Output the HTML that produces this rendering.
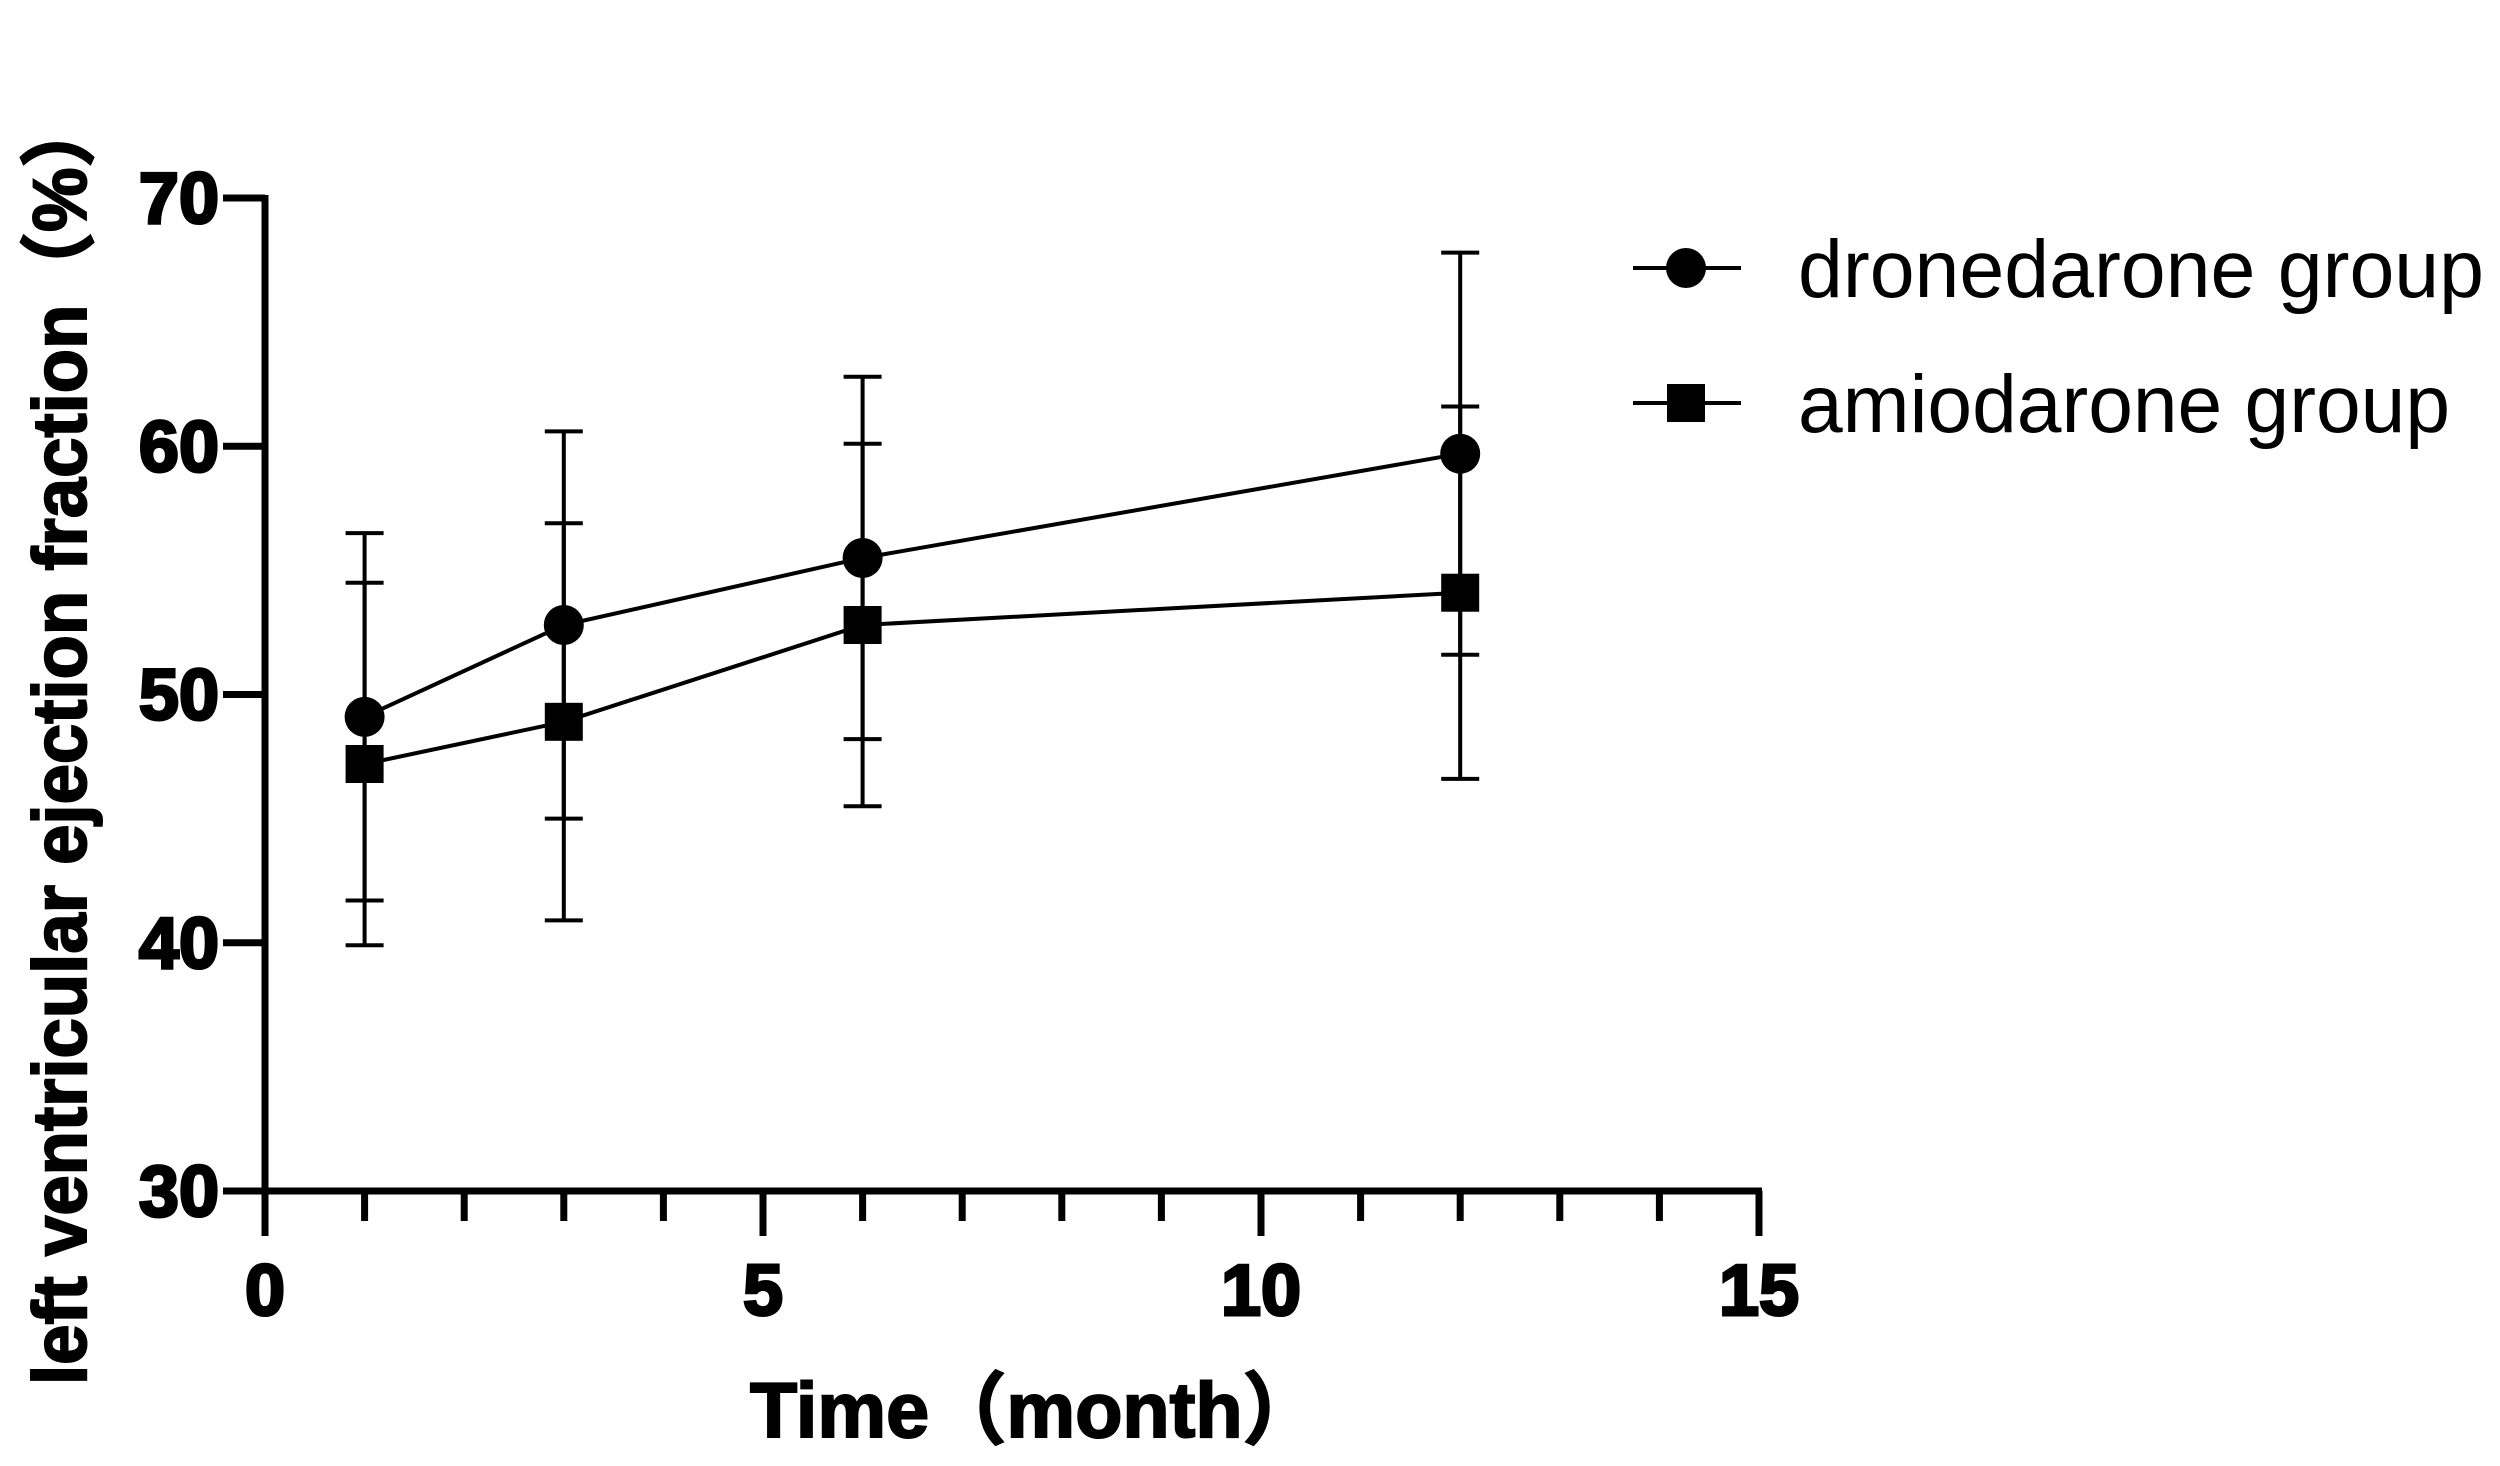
<!DOCTYPE html>
<html><head><meta charset="utf-8"><style>html,body{margin:0;padding:0;background:#fff}svg{display:block}</style></head>
<body>
<svg id="chart" width="2500" height="1466" viewBox="0 0 2500 1466" xmlns="http://www.w3.org/2000/svg" font-family="Liberation Sans, Arial, sans-serif">
<g id="axes"></g>
<g id="series"></g>
<text x="1035" y="1437" font-size="78" font-weight="bold" stroke="#000" stroke-width="2" text-anchor="middle" textLength="570" lengthAdjust="spacingAndGlyphs" font-family="Liberation Sans, Noto Sans CJK SC, sans-serif">Time（month）</text>
<text transform="translate(86,740) rotate(-90)" font-size="76" font-weight="bold" stroke="#000" stroke-width="2" text-anchor="middle" textLength="1290" lengthAdjust="spacingAndGlyphs" font-family="Liberation Sans, Noto Sans CJK SC, sans-serif">left ventricular ejection fraction（%）</text>
<g id="legend"></g>
</svg>
<script>
const months = [1, 3, 6, 12];
const droneMean = [49.1, 52.8, 55.5, 59.7];
const droneSD = [7.4, 7.8, 7.3, 8.1];
const amioMean = [47.2, 48.9, 52.8, 54.1];
const amioSD = [7.3, 8.0, 7.3, 7.5];
const yTicks = [30, 40, 50, 60, 70];
const xTicks = [0, 5, 10, 15];
const seriesNames = ["dronedarone group", "amiodarone group"];

const NS = "http://www.w3.org/2000/svg";
const X0 = 265, X1 = 1759, Y30 = 1191, Y70 = 198;
const sx = v => X0 + (v - 0) / 15 * (X1 - X0);
const sy = v => Y30 - (v - 30) / 40 * (Y30 - Y70);
function mk(tag, attrs, parent) {
  const e = document.createElementNS(NS, tag);
  for (const k in attrs) e.setAttribute(k, attrs[k]);
  parent.appendChild(e);
  return e;
}
const axes = document.getElementById('axes');
let a = mk('line', {x1: X0, y1: Y70 - 3, x2: X0, y2: Y30 + 3, stroke: '#000', 'stroke-width': 7}, axes);


a = mk('line', {x1: X0 - 3, y1: Y30, x2: X1 + 3, y2: Y30, stroke: '#000', 'stroke-width': 7}, axes);


yTicks.forEach(v => {
  const t = mk('line', {x1: X0 - 42, y1: sy(v), x2: X0, y2: sy(v), stroke: '#000', 'stroke-width': 7}, axes);
  
  
  const l = mk('text', {x: X0 - 46, y: sy(v) + 25, 'font-size': 72, 'font-weight': 'bold', stroke: '#000', 'stroke-width': 3, 'text-anchor': 'end'}, axes);
  l.textContent = v;
  
  
});
for (let m = 0; m <= 15; m++) {
  const major = m % 5 === 0;
  const t = mk('line', {x1: sx(m), y1: Y30, x2: sx(m), y2: Y30 + (major ? 45 : 30), stroke: '#000', 'stroke-width': 7}, axes);
  
  
}
xTicks.forEach(v => {
  const l = mk('text', {x: sx(v), y: 1315, 'font-size': 72, 'font-weight': 'bold', stroke: '#000', 'stroke-width': 3, 'text-anchor': 'middle'}, axes);
  l.textContent = v;
  
  
});
const ser = document.getElementById('series');
function drawSeries(means, sds, shape, name) {
  const g = mk('g', {}, ser);
  
  
  months.forEach((m, i) => {
    const x = sx(m), hi = sy(means[i] + sds[i]), lo = sy(means[i] - sds[i]);
    const e = mk('path', {d: `M${x},${hi}V${lo}M${x-19},${hi}H${x+19}M${x-19},${lo}H${x+19}`, stroke: '#000', 'stroke-width': 4, fill: 'none'}, g);
    
    
  });
  const pl = mk('polyline', {points: months.map((m, i) => sx(m) + ',' + sy(means[i])).join(' '), stroke: '#000', 'stroke-width': 4, fill: 'none'}, g);
  
  
  months.forEach((m, i) => {
    let p;
    if (shape === 'circle') p = mk('circle', {cx: sx(m), cy: sy(means[i]), r: 20, fill: '#000'}, g);
    else p = mk('rect', {x: sx(m) - 19, y: sy(means[i]) - 19, width: 38, height: 38, fill: '#000'}, g);
    
    
  });
}
drawSeries(droneMean, droneSD, 'circle', 'dronedarone-series');
drawSeries(amioMean, amioSD, 'square', 'amiodarone-series');

const leg = document.getElementById('legend');
[268, 403].forEach((y, i) => {
  const g = mk('g', {}, leg);
  
  
  mk('line', {x1: 1633, y1: y, x2: 1741, y2: y, stroke: '#000', 'stroke-width': 4}, g);
  if (i === 0) mk('circle', {cx: 1686, cy: y, r: 20, fill: '#000'}, g);
  else mk('rect', {x: 1667, y: y - 19, width: 38, height: 38, fill: '#000'}, g);
  const t = mk('text', {x: 1798, y: y + 29, 'font-size': 82, textLength: i === 0 ? 686 : 652, lengthAdjust: 'spacingAndGlyphs'}, g);
  t.textContent = seriesNames[i];
});
</script>
</body></html>
